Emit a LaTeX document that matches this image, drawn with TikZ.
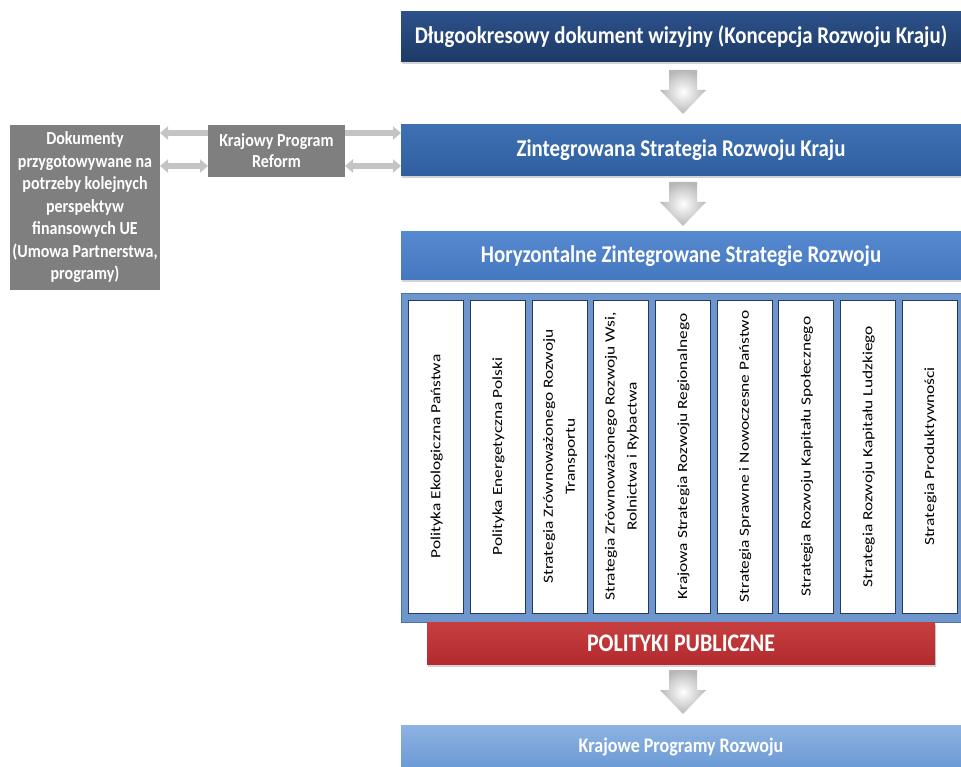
\documentclass[tikz,border=0pt]{standalone}
\usepackage{fontspec}
\setmainfont{Carlito}
% slightly narrow-set face for the horizontal labels (taller glyphs at the same width)
\newfontfamily\tallfont[FakeStretch=0.87]{Carlito}
\usetikzlibrary{arrows.meta,shadows,calc}

\definecolor{navy}{HTML}{1D3A66}
\definecolor{navytop}{HTML}{2C518A}
\definecolor{midblue}{HTML}{2F5F9F}
\definecolor{midbluetop}{HTML}{3E70B3}
\definecolor{hblue}{HTML}{4478C0}
\definecolor{hbluetop}{HTML}{5689CF}
\definecolor{frameblue}{HTML}{6F95CD}
\definecolor{frameedge}{HTML}{4A72B0}
\definecolor{lightblue}{HTML}{6A99D4}
\definecolor{lightbluetop}{HTML}{8DB3E2}
\definecolor{polred}{HTML}{B32A2E}
\definecolor{polredtop}{HTML}{C63F40}
\definecolor{boxgray}{HTML}{7F7F7F}
\definecolor{linkgray}{HTML}{C4C4C4}
\definecolor{coledge}{HTML}{233A5E}

\tikzset{
  band/.style={anchor=north west, inner sep=0pt, outer sep=0pt,
    minimum width=560pt, text=white,
    font=\tallfont\bfseries\fontsize{24}{26}\selectfont,
    drop shadow={shadow xshift=1pt, shadow yshift=-2.5pt, opacity=0.35}},
  graybox/.style={anchor=north west, inner sep=0pt, outer sep=0pt,
    fill=boxgray, text=white, align=center,
    font=\tallfont\bfseries\fontsize{18.4}{22.5}\selectfont},
  column/.style={anchor=north west, inner sep=0pt, outer sep=0pt,
    minimum width=55pt, minimum height=313pt, fill=white,
    draw=coledge, line width=0.8pt},
  coltext/.style={rotate=90, inner sep=0pt,
    font=\fontsize{14}{22}\selectfont},
  link/.style={draw=linkgray, line width=5.5pt,
    -{Triangle[width=13pt,length=8pt]}},
  duallink/.style={draw=linkgray, line width=5.5pt,
    {Triangle[width=13pt,length=8pt]}-{Triangle[width=13pt,length=8pt]}},
  flowarrow/.style={inner color=white, outer color=black!28, shading=radial}
}

% block arrow pointing down (y grows downwards); #1 = top centre of the shaft
\newcommand\flowdown[1]{%
  \begin{scope}[shift={(#1)}]
    \shade[flowarrow] (-14,0) -- (14,0) -- (14,20) -- (23,20) -- (0,44)
      -- (-23,20) -- (-14,20) -- cycle;
  \end{scope}}

% column label stretched along its length
\newcommand\collabel[1]{\scalebox{1.24}[1]{\begin{tabular}{@{}c@{}}#1\end{tabular}}}

\begin{document}
\begin{tikzpicture}[x=1pt,y=-1pt]
\useasboundingbox (0,0) rectangle (961,767);

% main column of documents
\node[band, minimum height=50pt, top color=navytop, bottom color=navy]
  (dlug) at (401,12) {Długookresowy dokument wizyjny (Koncepcja Rozwoju Kraju)};
\node[band, minimum height=51pt, top color=midbluetop, bottom color=midblue]
  (zsrk) at (401,125) {Zintegrowana Strategia Rozwoju Kraju};
\node[band, minimum height=48pt, top color=hbluetop, bottom color=hblue]
  (hzsr) at (401,232) {Horyzontalne Zintegrowane Strategie Rozwoju};

% frame holding the sectoral strategies
\node[anchor=north west, inner sep=0pt, outer sep=0pt, minimum width=560pt,
  minimum height=329pt, fill=frameblue, draw=frameedge, line width=0.8pt]
  (frame) at (401,293) {};

\foreach \i/\txt in {
  0/{Polityka Ekologiczna Państwa},
  1/{Polityka Energetyczna Polski},
  2/{Strategia Zrównoważonego Rozwoju\\Transportu},
  3/{Strategia Zrównoważonego Rozwoju Wsi,\\Rolnictwa i Rybactwa},
  4/{Krajowa Strategia Rozwoju Regionalnego},
  5/{Strategia Sprawne i Nowoczesne Państwo},
  6/{Strategia Rozwoju Kapitału Społecznego},
  7/{Strategia Rozwoju Kapitału Ludzkiego},
  8/{Strategia Produktywności}} {
  \node[column] (col\i) at ({408.5+61.7*\i},300) {};
  \node[coltext] (coltxt\i) at (col\i.center) {\collabel{\txt}};
}

\node[anchor=north west, inner sep=0pt, outer sep=0pt, minimum width=508pt,
  minimum height=42pt, top color=polredtop, bottom color=polred, text=white,
  font=\tallfont\bfseries\fontsize{25.3}{27}\selectfont,
  drop shadow={shadow xshift=1pt, shadow yshift=-2.5pt, opacity=0.35}]
  (pol) at (427,622) {POLITYKI PUBLICZNE};

\node[band, minimum height=44pt, top color=lightbluetop, bottom color=lightblue,
  font=\tallfont\bfseries\fontsize{20.7}{23}\selectfont, drop shadow={opacity=0}]
  (kpr) at (401,725) {Krajowe Programy Rozwoju};

% flow arrows between levels
\flowdown{683,70}
\flowdown{683,182}
\flowdown{683,670}

% side documents
\node[graybox, minimum width=150pt, minimum height=165pt] (ue) at (10,125)
  {Dokumenty\\przygotowywane na\\potrzeby kolejnych\\perspektyw\\finansowych UE\\(Umowa Partnerstwa,\\programy)};
\node[graybox, minimum width=137pt, minimum height=52pt,
  font=\tallfont\bfseries\fontsize{18.4}{21}\selectfont] (reform) at (208,125)
  {Krajowy Program\\Reform};

\coordinate (upper) at (0,133);
\coordinate (lower) at (0,166);
\draw[link] (reform.west |- upper) -- (ue.east |- upper);
\draw[duallink] (ue.east |- lower) -- (reform.west |- lower);
\draw[link] (reform.east |- upper) -- (zsrk.west |- upper);
\draw[duallink] (reform.east |- lower) -- (zsrk.west |- lower);
\end{tikzpicture}
\end{document}
